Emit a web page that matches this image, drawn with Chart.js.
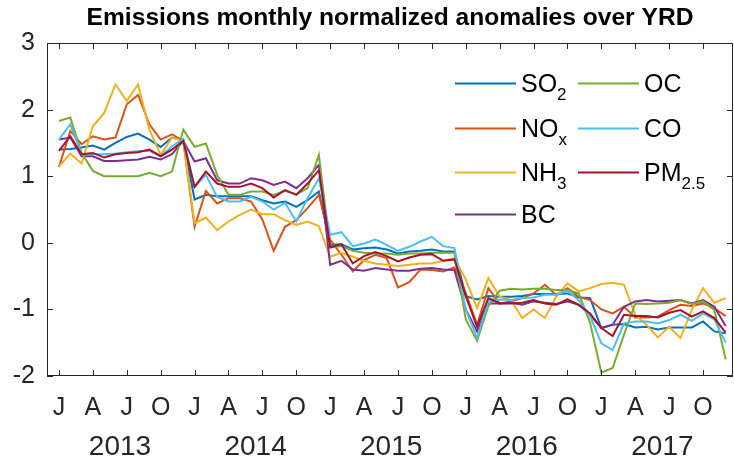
<!DOCTYPE html>
<html>
<head>
<meta charset="utf-8">
<script src="https://cdn.jsdelivr.net/npm/chart.js@4/dist/chart.umd.min.js"></script>
<style>
  html, body { margin: 0; padding: 0; background: #fff; }
</style>
</head>
<body>
<canvas id="c" width="734" height="457"></canvas>
<script>
// monthly values, Jan 2013 .. Dec 2017
const so2 = [1.40,1.41,1.43,1.46,1.40,1.50,1.59,1.64,1.55,1.44,1.58,1.55,
  0.65,0.72,0.70,0.70,0.70,0.70,0.64,0.59,0.62,0.54,0.64,0.77,
  -0.03,-0.02,-0.10,-0.08,-0.07,-0.10,-0.16,-0.13,-0.12,-0.10,-0.13,-0.13,
  -0.80,-0.85,-0.80,-0.81,-0.81,-0.80,-0.77,-0.77,-0.77,-0.76,-0.82,-0.83,
  -1.28,-1.23,-1.22,-1.27,-1.26,-1.30,-1.27,-1.27,-1.27,-1.18,-1.33,-1.36];
const nox = [1.14,1.68,1.48,1.60,1.55,1.58,2.08,2.22,1.78,1.55,1.63,1.53,
  0.24,0.78,0.59,0.67,0.67,0.62,0.35,-0.12,0.24,0.34,0.52,0.72,
  0.05,-0.18,-0.43,-0.26,-0.18,-0.23,-0.67,-0.59,-0.40,-0.41,-0.43,-0.37,
  -0.75,-1.23,-0.68,-0.91,-0.88,-0.83,-0.76,-0.63,-0.78,-0.68,-0.81,-0.86,
  -1.00,-1.06,-0.96,-1.12,-1.12,-1.11,-1.01,-0.93,-0.95,-0.91,-0.98,-1.10];
const nh3 = [1.15,1.34,1.19,1.75,1.95,2.38,2.13,2.38,1.70,1.32,1.58,1.53,
  0.29,0.38,0.19,0.32,0.42,0.50,0.43,0.43,0.34,0.27,0.32,0.25,
  -0.21,-0.15,-0.21,-0.27,-0.31,-0.33,-0.35,-0.33,-0.31,-0.31,-0.27,-0.23,
  -0.55,-0.98,-0.53,-0.81,-0.86,-1.13,-1.00,-1.13,-0.81,-0.61,-0.73,-0.68,
  -0.62,-0.60,-0.63,-1.08,-1.23,-1.42,-1.26,-1.43,-1.01,-0.68,-0.90,-0.83];
const bc = [1.55,1.58,1.30,1.30,1.23,1.23,1.24,1.25,1.29,1.25,1.33,1.53,
  1.22,1.27,0.94,0.89,0.89,0.97,0.94,0.87,0.92,0.82,0.97,1.17,
  -0.33,-0.27,-0.40,-0.42,-0.38,-0.40,-0.42,-0.42,-0.39,-0.38,-0.40,-0.41,
  -1.00,-1.33,-0.91,-0.91,-0.90,-0.93,-0.88,-0.90,-0.92,-0.88,-0.93,-1.08,
  -1.28,-1.23,-0.96,-0.88,-0.86,-0.88,-0.87,-0.86,-0.91,-0.86,-0.96,-1.25];
const oc = [1.83,1.88,1.35,1.08,1.00,1.00,1.00,1.00,1.05,1.00,1.07,1.70,
  1.44,1.49,1.02,0.72,0.72,0.77,0.77,0.72,0.78,0.73,0.82,1.32,
  -0.07,-0.05,-0.12,-0.15,-0.16,-0.16,-0.18,-0.16,-0.16,-0.15,-0.15,-0.15,
  -1.15,-1.47,-0.95,-0.72,-0.69,-0.70,-0.69,-0.69,-0.71,-0.71,-0.76,-1.20,
  -1.95,-1.88,-1.38,-0.91,-0.92,-0.91,-0.90,-0.86,-0.92,-0.88,-1.01,-1.75];
const co = [1.55,1.78,1.33,1.33,1.33,1.34,1.36,1.38,1.38,1.30,1.45,1.56,
  0.84,1.02,0.69,0.62,0.62,0.69,0.62,0.50,0.60,0.32,0.67,0.97,
  0.12,0.16,-0.05,-0.01,0.05,-0.03,-0.12,-0.06,0.02,0.09,-0.05,-0.08,
  -1.00,-1.43,-0.88,-0.85,-0.86,-0.83,-0.82,-0.78,-0.78,-0.72,-0.86,-1.10,
  -1.51,-1.61,-1.21,-1.18,-1.18,-1.21,-1.16,-1.08,-1.17,-1.06,-1.15,-1.50];
const pm25 = [1.38,1.60,1.33,1.35,1.28,1.33,1.35,1.36,1.40,1.30,1.40,1.53,
  0.84,1.07,0.89,0.84,0.84,0.89,0.82,0.68,0.79,0.72,0.89,1.09,
  -0.07,-0.02,-0.31,-0.20,-0.14,-0.20,-0.28,-0.22,-0.18,-0.17,-0.27,-0.25,
  -0.80,-1.26,-0.83,-0.91,-0.91,-0.90,-0.86,-0.91,-0.93,-0.85,-0.93,-1.06,
  -1.28,-1.40,-1.08,-1.10,-1.10,-1.12,-1.05,-1.01,-1.11,-1.03,-1.13,-1.35];

const seriesNames = ['SO2', 'NOx', 'NH3', 'BC', 'OC', 'CO', 'PM2.5'];
const legendMain = ['SO', 'NO', 'NH', 'BC', 'OC', 'CO', 'PM'];
const legendSub = ['2', 'x', '3', '', '', '', '2.5'];
const seriesValues = [so2, nox, nh3, bc, oc, co, pm25];
const seriesColors = ['#0072BD', '#D95319', '#EDB120', '#7E2F8E', '#77AC30', '#4DBEEE', '#A2142F'];
const monthLetters = ['J', 'A', 'J', 'O'];
const years = ['2013', '2014', '2015', '2016', '2017'];
const titleText = 'Emissions monthly normalized anomalies over YRD';

const FONT = '"Liberation Sans", Arial, Helvetica, sans-serif';
const AXIS = '#262626';
const quarterTicks = Array.from({ length: years.length * 4 }, (_, i) => i * 3);

// axes box with inward ticks on all four sides
const boxPlugin = {
  id: 'box',
  afterDatasetsDraw(chart) {
    const { ctx, chartArea: a, scales } = chart;
    const t = 6;
    ctx.save();
    ctx.strokeStyle = AXIS;
    ctx.lineWidth = 1;
    ctx.strokeRect(a.left + 0.5, a.top + 0.5, a.right - a.left - 1, a.bottom - a.top - 1);
    ctx.beginPath();
    scales.x.ticks.forEach(tk => {
      const px = Math.round(scales.x.getPixelForValue(tk.value)) + 0.5;
      ctx.moveTo(px, a.bottom); ctx.lineTo(px, a.bottom - t);
      ctx.moveTo(px, a.top); ctx.lineTo(px, a.top + t);
    });
    scales.y.ticks.forEach(tk => {
      const py = Math.round(scales.y.getPixelForValue(tk.value)) + 0.5;
      ctx.moveTo(a.left, py); ctx.lineTo(a.left + t, py);
      ctx.moveTo(a.right, py); ctx.lineTo(a.right - t, py);
    });
    ctx.stroke();
    ctx.restore();
  }
};

// two-column legend with subscripts, inside the axes
const legendPlugin = {
  id: 'subLegend',
  afterDatasetsDraw(chart) {
    const ctx = chart.ctx;
    const colX = [455, 578];
    const rowY = [83, 128, 172, 214];
    ctx.save();
    chart.data.datasets.forEach((ds, i) => {
      const col = i < 4 ? 0 : 1;
      const row = i < 4 ? i : i - 4;
      const x0 = colX[col], y = rowY[row];
      ctx.strokeStyle = ds.borderColor;
      ctx.lineWidth = 2;
      ctx.beginPath();
      ctx.moveTo(x0, y + 0.5); ctx.lineTo(x0 + 61, y + 0.5);
      ctx.stroke();
      ctx.fillStyle = '#000';
      ctx.textBaseline = 'alphabetic';
      ctx.textAlign = 'left';
      ctx.font = '25px ' + FONT;
      const tx = x0 + 66;
      ctx.fillText(legendMain[i], tx, y + 9);
      if (legendSub[i]) {
        const w = ctx.measureText(legendMain[i]).width;
        ctx.font = '17px ' + FONT;
        ctx.fillText(legendSub[i], tx + w, y + 17);
      }
    });
    ctx.restore();
  }
};

new Chart(document.getElementById('c'), {
  type: 'line',
  data: {
    datasets: seriesNames.map((name, i) => ({
      label: name,
      data: seriesValues[i].map((v, k) => ({ x: k, y: v })),
      borderColor: seriesColors[i],
      backgroundColor: seriesColors[i],
      borderWidth: 2,
      pointRadius: 0,
      tension: 0,
      fill: false,
      order: -i
    }))
  },
  options: {
    responsive: false,
    animation: false,
    devicePixelRatio: 1,
    layout: { padding: { left: 0, right: 1, top: 0, bottom: 0 } },
    plugins: {
      legend: { display: false },
      tooltip: { enabled: false },
      title: {
        display: true,
        text: titleText,
        fullSize: false,
        color: '#000',
        font: { family: FONT, size: 24.6, weight: 'bold' },
        padding: { top: 3, bottom: 10.5 }
      }
    },
    scales: {
      x: {
        type: 'linear',
        position: 'bottom',
        weight: 1,
        min: -1.06,
        max: 59.65,
        afterBuildTicks: s => { s.ticks = quarterTicks.map(v => ({ value: v })); },
        afterFit: s => { s.height = 44; },
        grid: { display: false, drawTicks: false },
        border: { display: false },
        ticks: {
          autoSkip: false,
          maxRotation: 0,
          padding: 17,
          color: AXIS,
          font: { family: FONT, size: 25 },
          callback: v => monthLetters[(v / 3) % 4]
        }
      },
      x2: {
        type: 'linear',
        position: 'bottom',
        weight: 2,
        min: -1.06,
        max: 59.65,
        afterBuildTicks: s => { s.ticks = years.map((y, i) => ({ value: i * 12 + 5.4 })); },
        afterFit: s => { s.height = 37; },
        grid: { display: false, drawTicks: false },
        border: { display: false },
        ticks: {
          autoSkip: false,
          maxRotation: 0,
          padding: 10,
          color: AXIS,
          font: { family: FONT, size: 28 },
          callback: v => years[Math.round((v - 5.4) / 12)]
        }
      },
      y: {
        min: -2,
        max: 3,
        afterFit: s => { s.width = 47; },
        grid: { display: false, drawTicks: false },
        border: { display: false },
        ticks: {
          stepSize: 1,
          padding: 12,
          color: AXIS,
          font: { family: FONT, size: 25 }
        }
      }
    }
  },
  plugins: [boxPlugin, legendPlugin]
});
</script>
</body>
</html>
